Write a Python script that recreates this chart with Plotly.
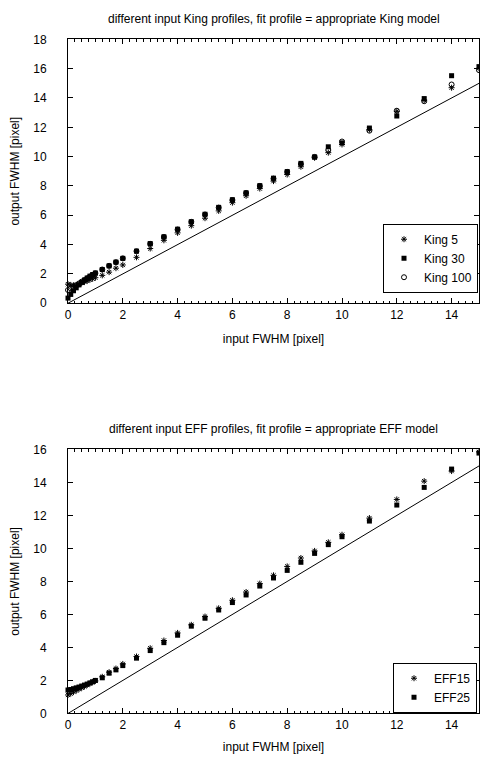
import plotly.graph_objects as go

# ---------------- data ----------------
x_vals = [0, 0.1, 0.2, 0.3, 0.4, 0.5, 0.6, 0.7, 0.8, 0.9, 1.0,
          1.25, 1.5, 1.75, 2, 2.5, 3, 3.5, 4, 4.5, 5, 5.5, 6, 6.5, 7, 7.5,
          8, 8.5, 9, 9.5, 10, 11, 12, 13, 14, 15]

king5 = [1.30, 1.25, 1.22, 1.25, 1.30, 1.38, 1.45, 1.52, 1.60, 1.67, 1.74,
         1.90, 2.12, 2.39, 2.61, 3.13, 3.73, 4.29, 4.80, 5.29, 5.80, 6.30, 6.86, 7.33, 7.82, 8.33,
         8.78, 9.31, 9.92, 10.27, 10.83, 11.84, 13.09, 13.85, 14.70, 16.03]
king30 = [0.35, 0.60, 0.85, 1.05, 1.25, 1.42, 1.58, 1.72, 1.85, 1.96, 2.06,
          2.30, 2.55, 2.80, 3.06, 3.55, 4.07, 4.53, 5.05, 5.56, 6.07, 6.54, 7.06, 7.53, 8.02, 8.53,
          8.98, 9.54, 9.98, 10.67, 10.94, 11.95, 12.77, 13.96, 15.52, 16.14]
king100 = [0.90, 1.00, 1.10, 1.22, 1.35, 1.47, 1.58, 1.70, 1.82, 1.93, 2.05,
           2.30, 2.55, 2.80, 3.06, 3.55, 4.05, 4.52, 5.03, 5.55, 6.05, 6.52, 7.04, 7.52, 8.00, 8.50,
           8.96, 9.50, 9.98, 10.45, 11.03, 11.77, 13.13, 13.78, 14.92, 15.90]

eff15 = [1.12, 1.20, 1.30, 1.38, 1.47, 1.55, 1.63, 1.72, 1.81, 1.90, 1.97,
         2.22, 2.50, 2.72, 3.00, 3.45, 3.95, 4.42, 4.88, 5.37, 5.87, 6.37, 6.86, 7.36, 7.87, 8.37,
         8.91, 9.42, 9.85, 10.37, 10.83, 11.84, 12.97, 14.08, 14.69, 15.85]
eff25 = [1.42, 1.45, 1.50, 1.55, 1.60, 1.66, 1.72, 1.78, 1.85, 1.92, 2.00,
         2.16, 2.44, 2.64, 2.90, 3.35, 3.81, 4.29, 4.74, 5.29, 5.77, 6.27, 6.72, 7.18, 7.72, 8.21,
         8.67, 9.16, 9.70, 10.23, 10.71, 11.66, 12.63, 13.70, 14.81, 15.78]

line_x = [0, 15]
line_y = [0, 15]

title_top = "different input King profiles, fit profile = appropriate King model"
title_bot = "different input EFF profiles, fit profile = appropriate EFF model"
x_title = "input FWHM [pixel]"
y_title = "output FWHM [pixel]"

FONT = "Liberation Sans, Arial, sans-serif"
OFF = 8  # page body margin of the browser

W = 488 - 2 * OFF
H = 767 - 2 * OFF
ML = 60
MR = 1


def py(p):
    return (H - (p - OFF)) / H


def px(p):
    return (p - OFF - ML) / (W - ML - MR)


star = dict(symbol="asterisk-open", size=5, color="black", line=dict(width=1, color="black"))
sq = dict(symbol="square", size=5, color="black")
circ = dict(symbol="circle-open", size=5, color="black", line=dict(width=1, color="black"))

fig = go.Figure()

# top panel
fig.add_trace(go.Scatter(x=line_x, y=line_y, mode="lines", line=dict(color="black", width=1),
                         showlegend=False, xaxis="x", yaxis="y"))
fig.add_trace(go.Scatter(x=x_vals, y=king5, mode="markers", name="King 5", marker=star, cliponaxis=False,
                         xaxis="x", yaxis="y", legend="legend"))
fig.add_trace(go.Scatter(x=x_vals, y=king30, mode="markers", name="King 30", marker=sq, cliponaxis=False,
                         xaxis="x", yaxis="y", legend="legend"))
fig.add_trace(go.Scatter(x=x_vals, y=king100, mode="markers", name="King 100", marker=circ, cliponaxis=False,
                         xaxis="x", yaxis="y", legend="legend"))

# bottom panel
fig.add_trace(go.Scatter(x=line_x, y=line_y, mode="lines", line=dict(color="black", width=1),
                         showlegend=False, xaxis="x2", yaxis="y2"))
fig.add_trace(go.Scatter(x=x_vals, y=eff15, mode="markers", name="EFF15", marker=star, cliponaxis=False,
                         xaxis="x2", yaxis="y2", legend="legend2"))
fig.add_trace(go.Scatter(x=x_vals, y=eff25, mode="markers", name="EFF25", marker=sq, cliponaxis=False,
                         xaxis="x2", yaxis="y2", legend="legend2"))


def xaxis_style(standoff):
    return dict(range=[0, 15], dtick=2, tick0=0, ticks="inside", ticklen=5, tickcolor="black",
                showline=True, linecolor="black", linewidth=1, mirror="allticks",
                showgrid=False, zeroline=False,
                minor=dict(dtick=0.25, ticks="inside", ticklen=2.5, tickcolor="black", showgrid=False),
                tickfont=dict(family=FONT, size=12, color="black"),
                title=dict(text=x_title, font=dict(family=FONT, size=12, color="black"), standoff=standoff))


ycommon = dict(dtick=2, tick0=0, ticks="inside", ticklen=5, tickcolor="black",
               showline=True, linecolor="black", linewidth=1, mirror="allticks",
               showgrid=False, zeroline=False, ticklabelstandoff=18,
               tickfont=dict(family=FONT, size=12, color="black"),
               title=dict(text=y_title, font=dict(family=FONT, size=12, color="black"), standoff=12))

leg = dict(xanchor="right", yanchor="bottom",
           bordercolor="black", borderwidth=1, bgcolor="white",
           font=dict(family=FONT, size=12, color="black"),
           tracegroupgap=0, itemsizing="trace", itemwidth=30)

fig.update_layout(
    width=W, height=H,
    margin=dict(l=ML, r=MR, t=0, b=0),
    paper_bgcolor="white", plot_bgcolor="white",
    font=dict(family=FONT, size=12, color="black"),
    xaxis=dict(**xaxis_style(13), domain=[0, 1], anchor="y"),
    yaxis=dict(**ycommon, range=[0, 18], domain=[py(301.7), py(32.8)], anchor="x"),
    xaxis2=dict(**xaxis_style(11), domain=[0, 1], anchor="y2"),
    yaxis2=dict(**ycommon, range=[0, 16], domain=[py(719.7), py(450.7)], anchor="x2"),
    legend=dict(**leg, x=px(478), y=py(291)),
    legend2=dict(**leg, x=px(477), y=py(719)),
    annotations=[
        dict(text=title_top, xref="paper", yref="paper", x=0.5, y=py(12), xanchor="center", yanchor="middle",
             showarrow=False, font=dict(family=FONT, size=12, color="black")),
        dict(text=title_bot, xref="paper", yref="paper", x=0.5, y=py(430), xanchor="center", yanchor="middle",
             showarrow=False, font=dict(family=FONT, size=12, color="black")),
    ],
)

fig.write_html("out.html")
